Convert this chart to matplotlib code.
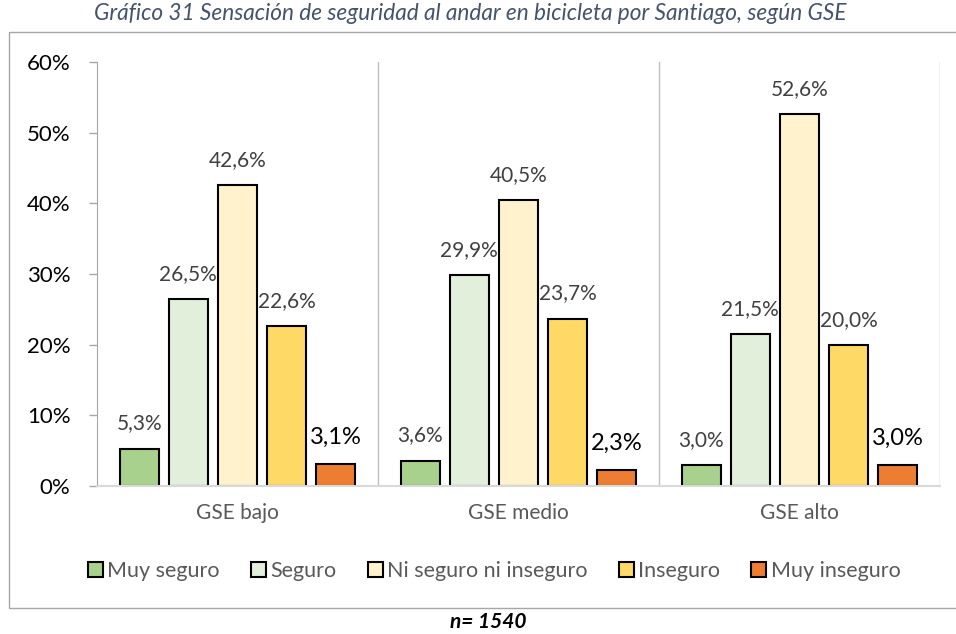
import matplotlib
matplotlib.use("Agg")
import matplotlib.pyplot as plt
import numpy as np
from matplotlib.patches import Rectangle

plt.rcParams['font.family'] = ['Lato', 'DejaVu Sans']

categories = ["GSE bajo", "GSE medio", "GSE alto"]
series = ["Muy seguro", "Seguro", "Ni seguro ni inseguro", "Inseguro", "Muy inseguro"]
values = {
    "Muy seguro": [5.3, 3.6, 3.0],
    "Seguro": [26.5, 29.9, 21.5],
    "Ni seguro ni inseguro": [42.6, 40.5, 52.6],
    "Inseguro": [22.6, 23.7, 20.0],
    "Muy inseguro": [3.1, 2.3, 3.0],
}
colors = ["#A9D18E", "#E2EFDA", "#FFF2CC", "#FFD966", "#ED7D31"]
yticks = [0, 10, 20, 30, 40, 50, 60]
title = "Gráfico 31 Sensación de seguridad al andar en bicicleta por Santiago, según GSE"
note = "n= 1540"

fig = plt.figure(figsize=(9.56, 6.34), dpi=100)
ax = fig.add_axes([97/956, 1-486/634, (940-97)/956, (486-62)/634])

x = np.arange(len(categories))
pitch = 0.175
width = 0.139
for i, s in enumerate(series):
    pos = x + (i - 2) * pitch
    bars = ax.bar(pos, values[s], width=width, color=colors[i], edgecolor="black",
                  linewidth=1.5, label=s, zorder=3)
    for b, v in zip(bars, values[s]):
        lab = f"{v:.1f}%".replace(".", ",")
        if s == "Muy inseguro":
            ax.annotate(lab, (b.get_x() + b.get_width()/2, v), xytext=(0, 19),
                        textcoords="offset points", ha="center", va="center",
                        fontsize=17, color="black")
        else:
            ax.annotate(lab, (b.get_x() + b.get_width()/2, v), xytext=(0, 18),
                        textcoords="offset points", ha="center", va="center",
                        fontsize=15, color="#404040")

ax.set_xlim(-0.5, 2.5)
ax.set_ylim(0, 60)
ax.set_yticks(yticks)
ax.set_yticklabels([f"{t}%" for t in yticks], fontsize=16, color="black")
ax.set_xticks(x)
ax.set_xticklabels(categories, fontsize=15, color="#595959")
ax.tick_params(axis="x", length=0, pad=12)
ax.tick_params(axis="y", length=6, width=1, color="#A6A6A6", direction="out", pad=13)

for sp in ["top", "right"]:
    ax.spines[sp].set_visible(False)
ax.spines["left"].set_color("#A6A6A6")
ax.spines["bottom"].set_color("#D9D9D9")
ax.spines["bottom"].set_linewidth(1.5)
ax.spines["bottom"].set_zorder(4)
for xb in [0.5, 1.5, 2.5]:
    ax.axvline(xb, color="#BFBFBF", linewidth=1, zorder=1)

leg = ax.legend(loc="center", bbox_to_anchor=((494-97)/843, (1-571/634 - (1-486/634)) / ((486-62)/634)),
                ncol=5, frameon=False, fontsize=15.5, handlelength=0.7, handleheight=0.7,
                handletextpad=0.2, columnspacing=1.45, labelcolor="#595959")
for h in leg.legend_handles:
    h.set_linewidth(1.5)

fig.text(470/956, 1-14/634, title, ha="center", va="center", fontsize=16.3,
         style="italic", color="#44546A")
fig.text(488/956, 1-622/634, note, ha="center", va="center", fontsize=15,
         style="italic", weight="bold", color="black")

fig.add_artist(Rectangle((9/956, 1-608/634), 1.0, (608-32)/634, transform=fig.transFigure,
                         fill=False, edgecolor="#A6A6A6", linewidth=1, clip_on=False))

fig.savefig("out.png", dpi=100)
